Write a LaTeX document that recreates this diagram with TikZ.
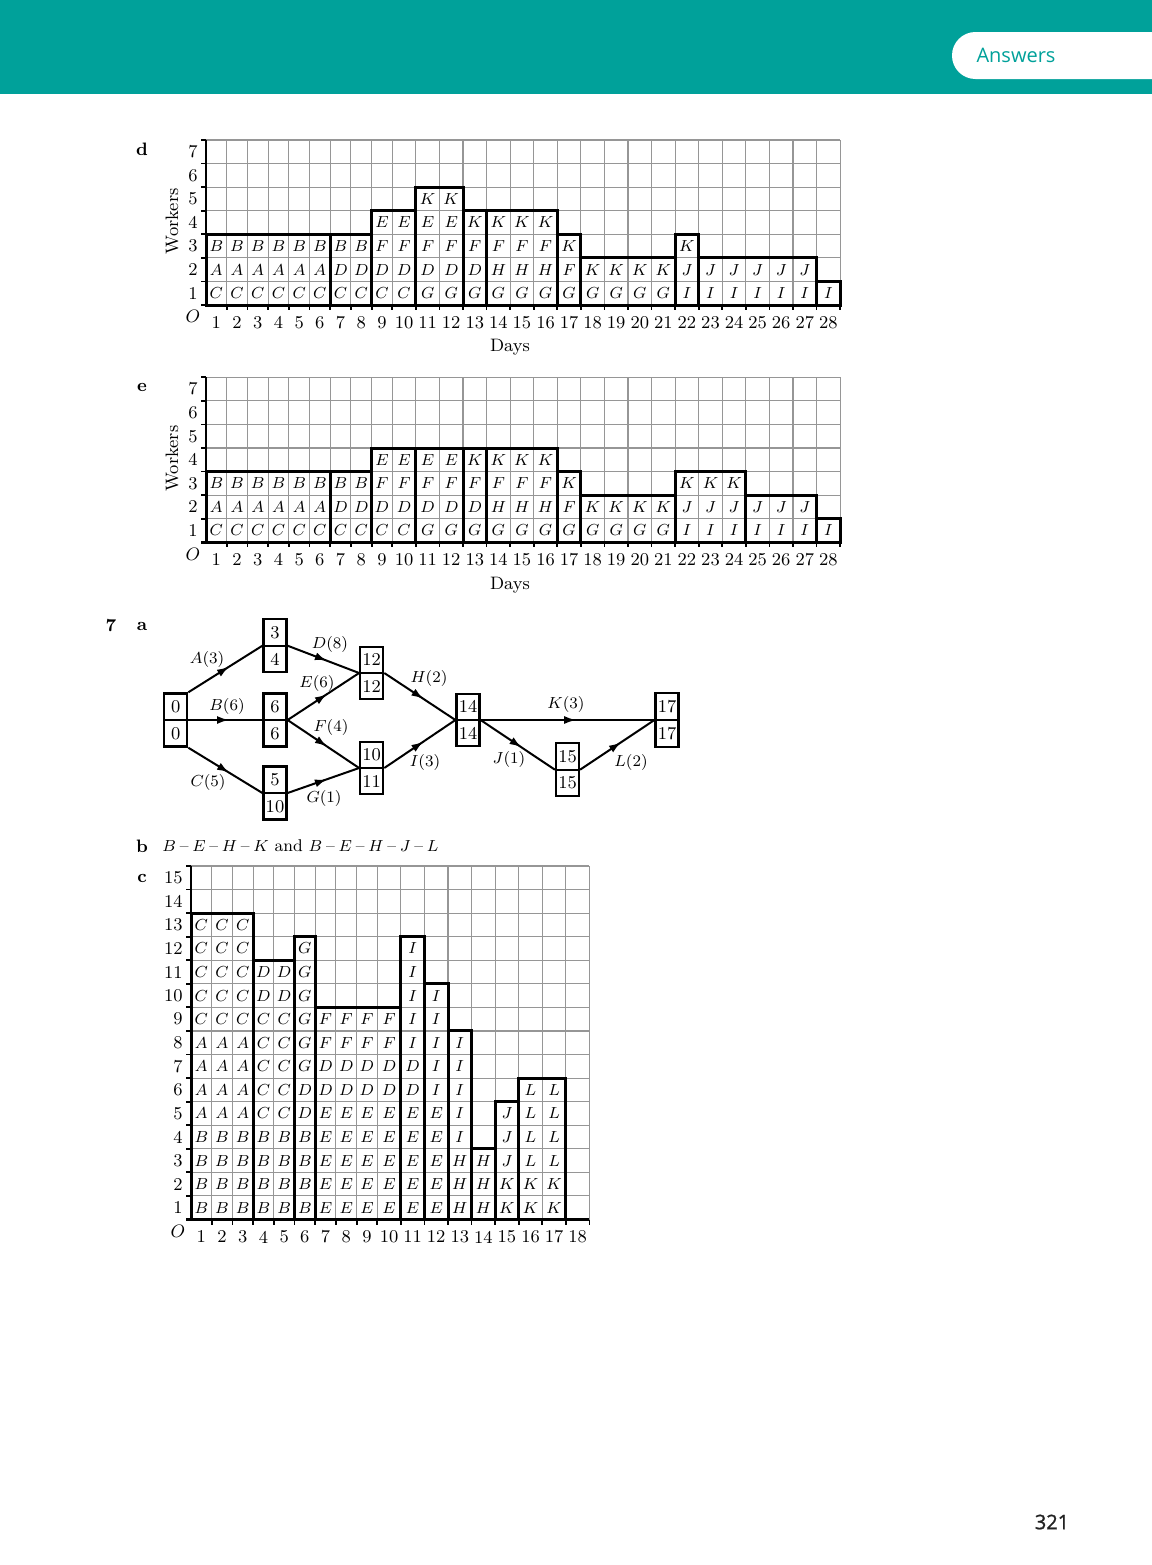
\documentclass[tikz,border=0pt]{standalone}
\usepackage{fontspec}
\newfontfamily\headfont{Open Sans}
\newfontfamily\numfont[FakeBold=1.2]{Open Sans}
\usetikzlibrary{arrows.meta,decorations.markings,shapes.multipart}
\definecolor{headteal}{RGB}{0,161,154}
\definecolor{gridgray}{RGB}{150,150,150}
\definecolor{pagegray}{RGB}{34,34,34}
% x position of the boundary after column #1 (first nine columns are narrower)
\pgfmathdeclarefunction{colx}{1}{\pgfmathparse{(#1)<9.5 ? 20.7*(#1) : 186.3+23.57*((#1)-9)}}
\tikzset{
  gridline/.style={draw=gridgray, line width=0.55pt},
  blockline/.style={line width=1.5pt, black},
  axisline/.style={line width=1.3pt, black},
  tickline/.style={line width=0.9pt, black},
  cell/.style={font=\fontsize{8.5}{10}\selectfont, inner sep=0pt},
  numlab/.style={font=\fontsize{9}{11}\selectfont, inner sep=0pt},
  partlab/.style={font=\bfseries\fontsize{9}{11}\selectfont, inner sep=0pt},
  evbox/.style={rectangle split, rectangle split parts=2, draw, line width=1.1pt,
    minimum width=11.5pt, inner xsep=1pt, inner ysep=3pt, font=\fontsize{9}{11}\selectfont},
  actarc/.style={line width=1pt, postaction={decorate},
    decoration={markings, mark=at position 0.55 with {\arrow{Latex[length=6pt,width=4pt]}}}},
  arclab/.style={font=\fontsize{8.5}{10}\selectfont, inner sep=0pt},
}
% grid, axes and scale labels: #1 columns, #2 rows, #3 prefix for names
\newcommand{\chartframe}[3]{%
  \foreach \i in {0,...,#1} \draw[gridline] ({colx(\i)},0) -- ({colx(\i)},#2);
  \foreach \j in {1,...,#2} \draw[gridline] (0,\j) -- ({colx(#1)},\j);
  \foreach \i in {1,...,#1} \draw[tickline] ({colx(\i)},0) -- ++(0,-0.22);
  \foreach \j in {1,...,#2} {
    \draw[tickline] (0,\j) -- ++(-5,0);
    \node[numlab, anchor=east] (#3y\j) at (-8,\j-0.5) {\j};
  }
  \foreach \i in {1,...,#1}
    \node[numlab] (#3x\i) at ({(colx(\i-1)+colx(\i))/2},-0.74) {\i};
  \node[numlab] (#3o) at (-13,-0.5) {$O$};
}
% blocks: first day / last day / height / letters from the bottom
\newcommand{\workblocks}[2]{%
  \foreach \a/\b/\h/\s in {#2} {
    \draw[blockline] ({colx(\a-1)},0) rectangle ({colx(\b)},\h);
    \foreach \L [count=\r] in \s {
      \foreach \c in {\a,...,\b}
        \node[cell] (#1-\c-\r) at ({(colx(\c-1)+colx(\c))/2},\r-0.5) {$\L$};
    }
  }
}
\newcommand{\chartaxes}[2]{%
  \draw[axisline] (0,0) -- (0,#2);
  \draw[axisline] (-5,0) -- ({colx(#1)},0);
}

\begin{document}
\begin{tikzpicture}[x=0.5pt, y=-0.5pt]
\useasboundingbox (0,0) rectangle (1152,1565);
\fill[white] (0,0) rectangle (1152,1565);

% header band
\fill[headteal] (0,0) rectangle (1152,94);
\fill[white, rounded corners=11.7pt] (952,32) rectangle (1190,79);
\node[font=\headfont\fontsize{10}{12}\selectfont, text=headteal] (head) at (1016,55) {Answers};

% part d
\node[partlab] (pd) at (142,149) {d};
\begin{scope}[shift={(206,305)}, y=11.785pt]
  \chartframe{28}{7}{d}
  \workblocks{d}{1/6/3/{C,A,B}, 7/8/3/{C,D,B}, 9/10/4/{C,D,F,E}, 11/12/5/{G,D,F,E,K},
    13/13/4/{G,D,F,K}, 14/16/4/{G,H,F,K}, 17/17/3/{G,F,K}, 18/21/2/{G,K},
    22/22/3/{I,J,K}, 23/27/2/{I,J}, 28/28/1/{I}}
  \chartaxes{28}{7}
  \node[numlab] (ddays) at (304,-1.8) {Days};
  \node[numlab, rotate=90] (dwork) at (-34,3.55) {Workers};
\end{scope}

% part e
\node[partlab] (pe) at (142,387) {e};
\begin{scope}[shift={(206,542.3)}, y=11.785pt]
  \chartframe{28}{7}{e}
  \workblocks{e}{1/6/3/{C,A,B}, 7/8/3/{C,D,B}, 9/10/4/{C,D,F,E}, 11/12/4/{G,D,F,E},
    13/13/4/{G,D,F,K}, 14/16/4/{G,H,F,K}, 17/17/3/{G,F,K}, 18/21/2/{G,K},
    22/24/3/{I,J,K}, 25/27/2/{I,J}, 28/28/1/{I}}
  \chartaxes{28}{7}
  \node[numlab] (edays) at (304,-1.8) {Days};
  \node[numlab, rotate=90] (ework) at (-34,3.55) {Workers};
\end{scope}

% 7a network
\node[partlab] (q7) at (111,626) {7};
\node[partlab] (pa) at (142,626) {a};
\node[evbox] (e0) at (175.7,720) {0\nodepart{two}0};
\node[evbox] (e3) at (275,645.7) {3\nodepart{two}4};
\node[evbox] (e6) at (275,720) {6\nodepart{two}6};
\node[evbox] (e5) at (275,793) {5\nodepart{two}10};
\node[evbox] (e12) at (371.7,673) {12\nodepart{two}12};
\node[evbox] (e10) at (371.7,768) {10\nodepart{two}11};
\node[evbox] (e14) at (468,720) {14\nodepart{two}14};
\node[evbox] (e15) at (567.5,769.7) {15\nodepart{two}15};
\node[evbox] (e17) at (667,720) {17\nodepart{two}17};
\draw[actarc] (e0.north east) -- (e3.west);
\draw[actarc] (e0.east) -- (e6.west);
\draw[actarc] (e0.south east) -- (e5.west);
\draw[actarc] (e3.east) -- (e12.west);
\draw[actarc] (e6.east) -- (e12.west);
\draw[actarc] (e6.east) -- (e10.west);
\draw[actarc] (e5.east) -- (e10.west);
\draw[actarc] (e12.east) -- (e14.west);
\draw[actarc] (e10.east) -- (e14.west);
\draw[actarc] (e14.east) -- (e17.west);
\draw[actarc] (e14.east) -- (e15.west);
\draw[actarc] (e15.east) -- (e17.west);
\node[arclab] (lA) at (207,659) {$A(3)$};
\node[arclab] (lB) at (227,706) {$B(6)$};
\node[arclab] (lC) at (208,782) {$C(5)$};
\node[arclab] (lD) at (330,644) {$D(8)$};
\node[arclab] (lE) at (317,683) {$E(6)$};
\node[arclab] (lF) at (331,727) {$F(4)$};
\node[arclab] (lG) at (324,798) {$G(1)$};
\node[arclab] (lH) at (429,678) {$H(2)$};
\node[arclab] (lI) at (425,762) {$I(3)$};
\node[arclab] (lJ) at (509,759) {$J(1)$};
\node[arclab] (lK) at (566,704) {$K(3)$};
\node[arclab] (lL) at (631,762) {$L(2)$};

% 7b
\node[partlab] (pb) at (142,846) {b};
\node[numlab, font=\fontsize{8.5}{10}\selectfont, anchor=west] (bpath) at (162,846)
  {$B$\:--\:$E$\:--\:$H$\:--\:$K$ and $B$\:--\:$E$\:--\:$H$\:--\:$J$\:--\:$L$};

% 7c
\node[partlab] (pc) at (142,878) {c};
\begin{scope}[shift={(191,1219.5)}, y=11.785pt]
  \chartframe{18}{15}{c}
  \workblocks{c}{1/3/13/{B,B,B,B,A,A,A,A,C,C,C,C,C}, 4/5/11/{B,B,B,B,C,C,C,C,C,D,D},
    6/6/12/{B,B,B,B,D,D,G,G,G,G,G,G}, 7/10/9/{E,E,E,E,E,D,D,F,F},
    11/11/12/{E,E,E,E,E,D,D,I,I,I,I,I}, 12/12/10/{E,E,E,E,E,I,I,I,I,I},
    13/13/8/{H,H,H,I,I,I,I,I}, 14/14/3/{H,H,H}, 15/15/5/{K,K,J,J,J},
    16/17/6/{K,K,L,L,L,L}}
  \chartaxes{18}{15}
\end{scope}

% page number
\node[font=\numfont\fontsize{10}{12}\selectfont, text=pagegray] (pnum) at (1052,1522) {321};
\end{tikzpicture}
\end{document}
